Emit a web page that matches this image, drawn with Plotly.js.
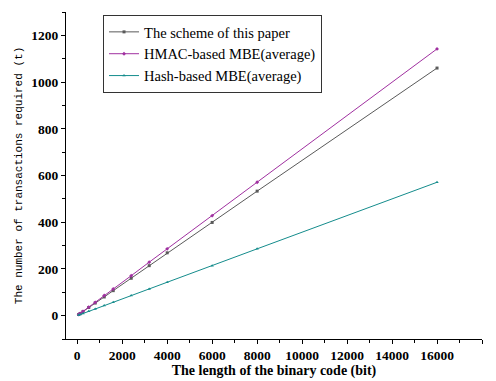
<!DOCTYPE html>
<html>
<head>
<meta charset="utf-8">
<script src="https://cdn.plot.ly/plotly-3.0.1.min.js"></script>
<style>html,body{margin:0;padding:0;background:#fff;}#chart{width:496px;height:381px;}</style>
</head>
<body>
<div id="chart"></div>
<script>
const codeLengths = [64, 128, 256, 512, 800, 1200, 1600, 2400, 3200, 4000, 6000, 8000, 16000];
const schemeValues = [5, 9, 17, 35, 54, 80, 107, 160, 214, 269, 399, 533, 1060];
const hmacValues = [4.6, 9.1, 18.3, 36.6, 57, 86, 114, 171, 229, 286, 428, 571, 1142];
const hashValues = [2.3, 4.6, 9.1, 18.3, 28.6, 43, 57, 86, 114, 143, 214, 286, 571];
const seriesNames = ["The scheme of this paper", "HMAC-based MBE(average)", "Hash-based MBE(average)"];
const xTickVals = [0, 2000, 4000, 6000, 8000, 10000, 12000, 14000, 16000, 18000];
const yTickVals = [0, 200, 400, 600, 800, 1000, 1200];

const colors = ["#5a5a5a", "#a030a0", "#148c8c"];
const symbols = ["square", "diamond", "triangle-up"];
const ys = [schemeValues, hmacValues, hashValues];

const traces = ys.map((y, i) => ({
  x: codeLengths, y: y, name: seriesNames[i], type: "scatter", mode: "lines+markers",
  line: {color: colors[i], width: 1},
  marker: {color: colors[i], size: 3, symbol: symbols[i]}
}));

const serif = "Liberation Serif, Times New Roman, serif";
const tickFont = {family: serif, size: 13.5, color: "#000", weight: "bold"};

const layout = {
  width: 496, height: 381,
  margin: {l: 66, r: 14, t: 12, b: 42},
  paper_bgcolor: "#fff", plot_bgcolor: "#fff",
  showlegend: true,
  legend: {
    x: 0.089, y: 0.991, xanchor: "left", yanchor: "top",
    bordercolor: "#333", borderwidth: 1, bgcolor: "#fff",
    font: {family: serif, size: 14.5, color: "#000"},
    tracegroupgap: 0, itemwidth: 30
  },
  xaxis: {
    range: [-500, 18000], tickvals: xTickVals, ticktext: xTickVals.map(String),
    showgrid: false, zeroline: false, showline: true, linecolor: "#000", linewidth: 1,
    ticks: "outside", ticklen: 4, tickcolor: "#000",
    minor: {ticks: "outside", dtick: 1000, tick0: 0, ticklen: 3, tickcolor: "#000"},
    tickfont: tickFont,
    title: {text: "The length of the binary code (bit)", standoff: 2,
      font: {family: serif, size: 14, color: "#000", weight: "bold"}}
  },
  yaxis: {
    range: [-100, 1300], tickvals: yTickVals, ticktext: yTickVals.map(String),
    showgrid: false, zeroline: false, showline: true, linecolor: "#000", linewidth: 1,
    ticks: "outside", ticklen: 4, tickcolor: "#000",
    minor: {ticks: "outside", dtick: 100, tick0: 0, ticklen: 3, tickcolor: "#000"},
    tickfont: tickFont,
    title: {text: "The number of transactions required (t)", standoff: 6,
      font: {family: "Liberation Mono, DejaVu Sans Mono, monospace", size: 11, color: "#000"}}
  }
};

Plotly.newPlot("chart", traces, layout, {displayModeBar: false, staticPlot: true});
</script>
</body>
</html>
